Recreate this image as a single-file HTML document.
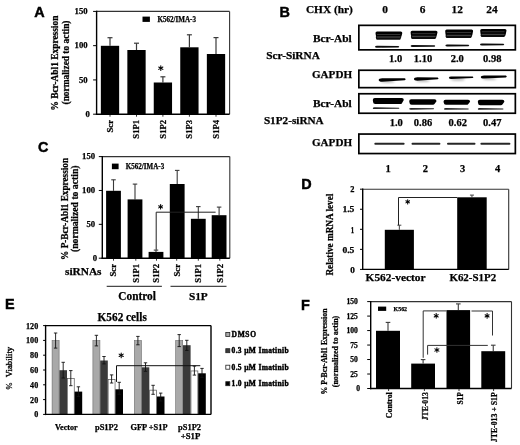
<!DOCTYPE html>
<html><head><meta charset="utf-8"><style>
html,body{margin:0;padding:0;background:#fff;}
svg{display:block;filter:grayscale(1) blur(0.3px);}
</style></head><body>
<svg width="520" height="445" viewBox="0 0 520 445">
<defs><filter id="bl" x="-20%" y="-50%" width="140%" height="200%"><feGaussianBlur stdDeviation="0.45"/></filter><filter id="bl2" x="-50%" y="-100%" width="200%" height="300%"><feGaussianBlur stdDeviation="1"/></filter></defs>
<rect x="0" y="0" width="520" height="445" fill="#fff"/>
<text x="34.2" y="16.8" font-family="'Liberation Sans', sans-serif" font-weight="bold" font-size="14.4" text-anchor="start" fill="#000" stroke="#000" stroke-width="0.45">A</text>
<line x1="93.10" y1="11.40" x2="96.60" y2="11.40" stroke="#000" stroke-width="1"/>
<text x="87.6" y="14.100000000000005" font-family="'Liberation Serif', serif" font-weight="bold" font-size="8.7" text-anchor="end" fill="#000" stroke="#000" stroke-width="0.25">150</text>
<line x1="93.10" y1="45.67" x2="96.60" y2="45.67" stroke="#000" stroke-width="1"/>
<text x="87.6" y="48.366666666666674" font-family="'Liberation Serif', serif" font-weight="bold" font-size="8.7" text-anchor="end" fill="#000" stroke="#000" stroke-width="0.25">100</text>
<line x1="93.10" y1="79.93" x2="96.60" y2="79.93" stroke="#000" stroke-width="1"/>
<text x="87.6" y="82.63333333333334" font-family="'Liberation Serif', serif" font-weight="bold" font-size="8.7" text-anchor="end" fill="#000" stroke="#000" stroke-width="0.25">50</text>
<line x1="93.10" y1="114.20" x2="96.60" y2="114.20" stroke="#000" stroke-width="1"/>
<text x="89.8" y="116.9" font-family="'Liberation Serif', serif" font-weight="bold" font-size="8.7" text-anchor="end" fill="#000" stroke="#000" stroke-width="0.25">0</text>
<line x1="110.00" y1="37.70" x2="110.00" y2="45.80" stroke="#3a3a3a" stroke-width="1.2"/>
<line x1="107.50" y1="37.70" x2="112.50" y2="37.70" stroke="#3a3a3a" stroke-width="1.2"/>
<rect x="100.85" y="45.80" width="18.30" height="68.40" fill="#000"/>
<line x1="136.50" y1="43.20" x2="136.50" y2="50.00" stroke="#3a3a3a" stroke-width="1.2"/>
<line x1="134.00" y1="43.20" x2="139.00" y2="43.20" stroke="#3a3a3a" stroke-width="1.2"/>
<rect x="127.35" y="50.00" width="18.30" height="64.20" fill="#000"/>
<line x1="162.90" y1="76.80" x2="162.90" y2="82.50" stroke="#3a3a3a" stroke-width="1.2"/>
<line x1="160.40" y1="76.80" x2="165.40" y2="76.80" stroke="#3a3a3a" stroke-width="1.2"/>
<rect x="153.75" y="82.50" width="18.30" height="31.70" fill="#000"/>
<line x1="189.40" y1="34.80" x2="189.40" y2="47.30" stroke="#3a3a3a" stroke-width="1.2"/>
<line x1="186.90" y1="34.80" x2="191.90" y2="34.80" stroke="#3a3a3a" stroke-width="1.2"/>
<rect x="180.25" y="47.30" width="18.30" height="66.90" fill="#000"/>
<line x1="216.00" y1="37.60" x2="216.00" y2="54.00" stroke="#3a3a3a" stroke-width="1.2"/>
<line x1="213.50" y1="37.60" x2="218.50" y2="37.60" stroke="#3a3a3a" stroke-width="1.2"/>
<rect x="206.85" y="54.00" width="18.30" height="60.20" fill="#000"/>
<line x1="96.60" y1="11.40" x2="229.60" y2="11.40" stroke="#333" stroke-width="1.1"/>
<line x1="229.60" y1="11.40" x2="229.60" y2="114.20" stroke="#333" stroke-width="1.1"/>
<line x1="96.60" y1="10.70" x2="96.60" y2="114.90" stroke="#000" stroke-width="1.4"/>
<line x1="95.90" y1="114.20" x2="229.60" y2="114.20" stroke="#000" stroke-width="1.4"/>
<line x1="160.80" y1="65.81" x2="160.80" y2="70.59" stroke="#000" stroke-width="1.05" stroke-linecap="round"/>
<line x1="158.73" y1="67.00" x2="162.87" y2="69.40" stroke="#000" stroke-width="1.05" stroke-linecap="round"/>
<line x1="162.87" y1="67.00" x2="158.73" y2="69.40" stroke="#000" stroke-width="1.05" stroke-linecap="round"/>
<circle cx="160.80" cy="68.20" r="0.67" fill="#000"/>
<rect x="142.50" y="16.60" width="7.40" height="5.30" fill="#000"/>
<text x="157.5" y="21.9" font-family="'Liberation Serif', serif" font-weight="bold" font-size="7.6" text-anchor="start" fill="#000" textLength="38.5" lengthAdjust="spacingAndGlyphs" stroke="#000" stroke-width="0.25">K562/IMA-3</text>
<text transform="translate(57.6,63.1) rotate(-90)" font-family="'Liberation Serif', serif" font-weight="bold" font-size="9.5" text-anchor="middle" fill="#000" textLength="95" lengthAdjust="spacingAndGlyphs" stroke="#000" stroke-width="0.25">% Bcr-Abl1 Expression</text>
<text transform="translate(68.6,62.5) rotate(-90)" font-family="'Liberation Serif', serif" font-weight="bold" font-size="9.5" text-anchor="middle" fill="#000" textLength="84" lengthAdjust="spacingAndGlyphs" stroke="#000" stroke-width="0.25">(normalized to actin)</text>
<line x1="110.00" y1="114.20" x2="110.00" y2="116.70" stroke="#000" stroke-width="0.8"/>
<text transform="translate(112.9,120) rotate(-90)" font-family="'Liberation Serif', serif" font-weight="bold" font-size="8.6" text-anchor="end" fill="#000" stroke="#000" stroke-width="0.25">Scr</text>
<line x1="136.50" y1="114.20" x2="136.50" y2="116.70" stroke="#000" stroke-width="0.8"/>
<text transform="translate(139.4,120) rotate(-90)" font-family="'Liberation Serif', serif" font-weight="bold" font-size="8.6" text-anchor="end" fill="#000" stroke="#000" stroke-width="0.25">S1P1</text>
<line x1="162.90" y1="114.20" x2="162.90" y2="116.70" stroke="#000" stroke-width="0.8"/>
<text transform="translate(165.8,120) rotate(-90)" font-family="'Liberation Serif', serif" font-weight="bold" font-size="8.6" text-anchor="end" fill="#000" stroke="#000" stroke-width="0.25">S1P2</text>
<line x1="189.40" y1="114.20" x2="189.40" y2="116.70" stroke="#000" stroke-width="0.8"/>
<text transform="translate(192.3,120) rotate(-90)" font-family="'Liberation Serif', serif" font-weight="bold" font-size="8.6" text-anchor="end" fill="#000" stroke="#000" stroke-width="0.25">S1P3</text>
<line x1="216.00" y1="114.20" x2="216.00" y2="116.70" stroke="#000" stroke-width="0.8"/>
<text transform="translate(218.9,120) rotate(-90)" font-family="'Liberation Serif', serif" font-weight="bold" font-size="8.6" text-anchor="end" fill="#000" stroke="#000" stroke-width="0.25">S1P4</text>
<text x="279.6" y="17.3" font-family="'Liberation Sans', sans-serif" font-weight="bold" font-size="14.4" text-anchor="start" fill="#000" stroke="#000" stroke-width="0.45">B</text>
<text x="305.9" y="13.3" font-family="'Liberation Serif', serif" font-weight="bold" font-size="11.35" text-anchor="start" fill="#000" textLength="47.0" lengthAdjust="spacingAndGlyphs" stroke="#000" stroke-width="0.25">CHX (hr)</text>
<text x="385" y="13.2" font-family="'Liberation Serif', serif" font-weight="bold" font-size="11.35" text-anchor="middle" fill="#000" stroke="#000" stroke-width="0.25">0</text>
<text x="422.5" y="13.2" font-family="'Liberation Serif', serif" font-weight="bold" font-size="11.35" text-anchor="middle" fill="#000" stroke="#000" stroke-width="0.25">6</text>
<text x="457.2" y="13.2" font-family="'Liberation Serif', serif" font-weight="bold" font-size="11.35" text-anchor="middle" fill="#000" stroke="#000" stroke-width="0.25">12</text>
<text x="492" y="13.2" font-family="'Liberation Serif', serif" font-weight="bold" font-size="11.35" text-anchor="middle" fill="#000" stroke="#000" stroke-width="0.25">24</text>
<rect x="358.85" y="25.35" width="156.50" height="24.50" fill="#fff" stroke="#000" stroke-width="1.7"/>
<rect x="358.85" y="70.25" width="156.50" height="17.40" fill="#fff" stroke="#000" stroke-width="1.7"/>
<rect x="358.85" y="93.75" width="156.50" height="19.50" fill="#fff" stroke="#000" stroke-width="1.7"/>
<rect x="358.85" y="134.05" width="156.50" height="19.50" fill="#fff" stroke="#000" stroke-width="1.7"/>
<text x="312.9" y="41.7" font-family="'Liberation Serif', serif" font-weight="bold" font-size="11.3" text-anchor="start" fill="#000" textLength="38.8" lengthAdjust="spacingAndGlyphs" stroke="#000" stroke-width="0.25">Bcr-Abl</text>
<text x="266.3" y="58.7" font-family="'Liberation Serif', serif" font-weight="bold" font-size="11.3" text-anchor="start" fill="#000" textLength="53.5" lengthAdjust="spacingAndGlyphs" stroke="#000" stroke-width="0.25">Scr-SiRNA</text>
<text x="312" y="78.0" font-family="'Liberation Serif', serif" font-weight="bold" font-size="11.2" text-anchor="start" fill="#000" textLength="40" lengthAdjust="spacingAndGlyphs" stroke="#000" stroke-width="0.25">GAPDH</text>
<text x="312.9" y="106.7" font-family="'Liberation Serif', serif" font-weight="bold" font-size="11.3" text-anchor="start" fill="#000" textLength="38.8" lengthAdjust="spacingAndGlyphs" stroke="#000" stroke-width="0.25">Bcr-Abl</text>
<text x="263.9" y="123.5" font-family="'Liberation Serif', serif" font-weight="bold" font-size="11.3" text-anchor="start" fill="#000" textLength="59.8" lengthAdjust="spacingAndGlyphs" stroke="#000" stroke-width="0.25">S1P2-siRNA</text>
<text x="312" y="146.3" font-family="'Liberation Serif', serif" font-weight="bold" font-size="11.2" text-anchor="start" fill="#000" textLength="40" lengthAdjust="spacingAndGlyphs" stroke="#000" stroke-width="0.25">GAPDH</text>
<text x="395.6" y="61.7" font-family="'Liberation Serif', serif" font-weight="bold" font-size="10.5" text-anchor="middle" fill="#000" stroke="#000" stroke-width="0.25">1.0</text>
<text x="423" y="61.7" font-family="'Liberation Serif', serif" font-weight="bold" font-size="10.5" text-anchor="middle" fill="#000" stroke="#000" stroke-width="0.25">1.10</text>
<text x="457.3" y="61.7" font-family="'Liberation Serif', serif" font-weight="bold" font-size="10.5" text-anchor="middle" fill="#000" stroke="#000" stroke-width="0.25">2.0</text>
<text x="492.3" y="61.7" font-family="'Liberation Serif', serif" font-weight="bold" font-size="10.5" text-anchor="middle" fill="#000" stroke="#000" stroke-width="0.25">0.98</text>
<text x="396.25" y="125.8" font-family="'Liberation Serif', serif" font-weight="bold" font-size="10.5" text-anchor="middle" fill="#000" stroke="#000" stroke-width="0.25">1.0</text>
<text x="423" y="125.8" font-family="'Liberation Serif', serif" font-weight="bold" font-size="10.5" text-anchor="middle" fill="#000" stroke="#000" stroke-width="0.25">0.86</text>
<text x="457.7" y="125.8" font-family="'Liberation Serif', serif" font-weight="bold" font-size="10.5" text-anchor="middle" fill="#000" stroke="#000" stroke-width="0.25">0.62</text>
<text x="492.2" y="125.8" font-family="'Liberation Serif', serif" font-weight="bold" font-size="10.5" text-anchor="middle" fill="#000" stroke="#000" stroke-width="0.25">0.47</text>
<text x="388.0" y="171.7" font-family="'Liberation Serif', serif" font-weight="bold" font-size="10.5" text-anchor="middle" fill="#000" stroke="#000" stroke-width="0.25">1</text>
<text x="425.4" y="171.7" font-family="'Liberation Serif', serif" font-weight="bold" font-size="10.5" text-anchor="middle" fill="#000" stroke="#000" stroke-width="0.25">2</text>
<text x="462.7" y="171.7" font-family="'Liberation Serif', serif" font-weight="bold" font-size="10.5" text-anchor="middle" fill="#000" stroke="#000" stroke-width="0.25">3</text>
<text x="497.5" y="171.7" font-family="'Liberation Serif', serif" font-weight="bold" font-size="10.5" text-anchor="middle" fill="#000" stroke="#000" stroke-width="0.25">4</text>
<path d="M376.80,36.10 L400.30,36.10 Q401.30,36.10 401.30,37.10 L400.50,39.20 Q400.00,39.80 399.00,39.80 L377.30,39.80 Q376.10,39.80 376.10,38.80 L375.80,37.10 Q375.80,36.10 376.80,36.10 Z" fill="#101010" filter="url(#bl)"/>
<path d="M377.00,31.50 L400.80,31.50 Q402.30,31.50 402.30,33.00 L401.50,36.20 Q401.00,36.80 400.00,36.80 L377.50,36.80 Q375.80,36.80 375.80,35.30 L375.50,33.00 Q375.50,31.50 377.00,31.50 Z" fill="#050505" filter="url(#bl)"/>
<rect x="377.00" y="34.14" width="23.30" height="0.7" fill="#888" opacity="0.55" filter="url(#bl)"/>
<rect x="377.00" y="36.63" width="23.30" height="0.7" fill="#888" opacity="0.8" filter="url(#bl)"/>
<path d="M375.00,46.80 Q375.00,45.80 377.00,45.80 L398.50,46.05 Q400.00,46.80 398.50,47.55 L377.00,47.80 Q375.00,47.80 375.00,46.80 Z" fill="#0a0a0a" filter="url(#bl)"/>
<path d="M411.90,35.70 L435.50,35.70 Q436.50,35.70 436.50,36.70 L435.70,38.40 Q435.20,39.00 434.20,39.00 L412.40,39.00 Q411.20,39.00 411.20,38.00 L410.90,36.70 Q410.90,35.70 411.90,35.70 Z" fill="#101010" filter="url(#bl)"/>
<path d="M412.10,30.80 L436.00,30.80 Q437.50,30.80 437.50,32.30 L436.70,35.80 Q436.20,36.40 435.20,36.40 L412.60,36.40 Q410.90,36.40 410.90,34.90 L410.60,32.30 Q410.60,30.80 412.10,30.80 Z" fill="#050505" filter="url(#bl)"/>
<rect x="412.10" y="33.40" width="23.40" height="0.7" fill="#888" opacity="0.55" filter="url(#bl)"/>
<rect x="412.10" y="35.86" width="23.40" height="0.7" fill="#888" opacity="0.8" filter="url(#bl)"/>
<path d="M410.60,46.10 Q410.60,45.10 412.60,45.10 L434.50,45.35 Q436.00,46.10 434.50,46.85 L412.60,47.10 Q410.60,47.10 410.60,46.10 Z" fill="#0a0a0a" filter="url(#bl)"/>
<path d="M446.50,35.10 L471.10,35.10 Q472.10,35.10 472.10,36.10 L471.30,37.50 Q470.80,38.10 469.80,38.10 L447.00,38.10 Q445.80,38.10 445.80,37.10 L445.50,36.10 Q445.50,35.10 446.50,35.10 Z" fill="#101010" filter="url(#bl)"/>
<path d="M446.70,29.60 L471.60,29.60 Q473.10,29.60 473.10,31.10 L472.30,35.20 Q471.80,35.80 470.80,35.80 L447.20,35.80 Q445.50,35.80 445.50,34.30 L445.20,31.10 Q445.20,29.60 446.70,29.60 Z" fill="#050505" filter="url(#bl)"/>
<rect x="446.70" y="32.31" width="24.40" height="0.7" fill="#888" opacity="0.55" filter="url(#bl)"/>
<rect x="446.70" y="34.86" width="24.40" height="0.7" fill="#888" opacity="0.8" filter="url(#bl)"/>
<path d="M445.40,45.50 Q445.40,44.50 447.40,44.50 L468.50,44.75 Q470.00,45.50 468.50,46.25 L447.40,46.50 Q445.40,46.50 445.40,45.50 Z" fill="#0a0a0a" filter="url(#bl)"/>
<path d="M481.50,34.30 L504.50,34.30 Q505.50,34.30 505.50,35.30 L504.70,36.40 Q504.20,37.00 503.20,37.00 L482.00,37.00 Q480.80,37.00 480.80,36.00 L480.50,35.30 Q480.50,34.30 481.50,34.30 Z" fill="#101010" filter="url(#bl)"/>
<path d="M481.70,28.90 L505.00,28.90 Q506.50,28.90 506.50,30.40 L505.70,34.40 Q505.20,35.00 504.20,35.00 L482.20,35.00 Q480.50,35.00 480.50,33.50 L480.20,30.40 Q480.20,28.90 481.70,28.90 Z" fill="#050505" filter="url(#bl)"/>
<rect x="481.70" y="31.47" width="22.80" height="0.7" fill="#888" opacity="0.55" filter="url(#bl)"/>
<rect x="481.70" y="33.90" width="22.80" height="0.7" fill="#888" opacity="0.8" filter="url(#bl)"/>
<path d="M480.00,44.50 Q480.00,43.50 482.00,43.50 L503.50,43.75 Q505.00,44.50 503.50,45.25 L482.00,45.50 Q480.00,45.50 480.00,44.50 Z" fill="#0a0a0a" filter="url(#bl)"/>
<ellipse cx="387.70" cy="81.70" rx="7" ry="1.3" fill="#bbb" filter="url(#bl2)"/>
<path d="M378.70,79.90 Q378.70,78.15 382.20,78.15 L404.70,78.25 Q406.60,79.20 404.70,80.15 L382.20,81.65 Q378.70,81.65 378.70,79.90 Z" fill="#000" filter="url(#bl)"/>
<ellipse cx="423.00" cy="80.80" rx="7" ry="1.3" fill="#bbb" filter="url(#bl2)"/>
<path d="M414.00,79.00 Q414.00,77.35 417.30,77.35 L437.70,77.50 Q439.50,78.40 437.70,79.30 L417.30,80.65 Q414.00,80.65 414.00,79.00 Z" fill="#000" filter="url(#bl)"/>
<ellipse cx="457.90" cy="79.50" rx="7" ry="1.3" fill="#bbb" filter="url(#bl2)"/>
<path d="M448.90,77.70 Q448.90,76.50 451.30,76.50 L472.70,76.55 Q474.20,77.30 472.70,78.05 L451.30,78.90 Q448.90,78.90 448.90,77.70 Z" fill="#000" filter="url(#bl)"/>
<ellipse cx="489.80" cy="78.80" rx="7" ry="1.3" fill="#bbb" filter="url(#bl2)"/>
<path d="M480.80,77.00 Q480.80,75.40 484.00,75.40 L505.80,75.55 Q507.70,76.50 505.80,77.45 L484.00,78.60 Q480.80,78.60 480.80,77.00 Z" fill="#000" filter="url(#bl)"/>
<path d="M374.80,98.00 L401.80,98.00 Q403.80,98.00 403.80,100.00 L401.80,103.40 Q401.30,104.00 400.30,104.00 L375.30,104.00 Q373.10,104.00 373.10,102.00 L372.80,100.00 Q372.80,98.00 374.80,98.00 Z" fill="#050505" filter="url(#bl)"/>
<path d="M372.80,108.20 Q372.80,107.30 374.60,107.30 L398.90,107.70 Q399.90,108.20 398.90,108.70 L374.60,109.10 Q372.80,109.10 372.80,108.20 Z" fill="#222" filter="url(#bl)"/>
<path d="M411.20,99.30 L434.50,99.30 Q436.50,99.30 436.50,101.30 L434.50,104.10 Q434.00,104.70 433.00,104.70 L411.70,104.70 Q409.50,104.70 409.50,102.70 L409.20,101.30 Q409.20,99.30 411.20,99.30 Z" fill="#050505" filter="url(#bl)"/>
<path d="M409.20,108.80 Q409.20,107.90 411.00,107.90 L433.60,108.30 Q434.60,108.80 433.60,109.30 L411.00,109.70 Q409.20,109.70 409.20,108.80 Z" fill="#222" filter="url(#bl)"/>
<path d="M445.50,99.80 L468.10,99.80 Q470.10,99.80 470.10,101.80 L468.10,104.20 Q467.60,104.80 466.60,104.80 L446.00,104.80 Q443.80,104.80 443.80,102.80 L443.50,101.80 Q443.50,99.80 445.50,99.80 Z" fill="#050505" filter="url(#bl)"/>
<path d="M444.00,108.90 Q444.00,108.00 445.80,108.00 L468.30,108.40 Q469.30,108.90 468.30,109.40 L445.80,109.80 Q444.00,109.80 444.00,108.90 Z" fill="#222" filter="url(#bl)"/>
<path d="M479.80,99.80 L502.40,99.80 Q504.40,99.80 504.40,101.80 L502.40,104.60 Q501.90,105.20 500.90,105.20 L480.30,105.20 Q478.10,105.20 478.10,103.20 L477.80,101.80 Q477.80,99.80 479.80,99.80 Z" fill="#050505" filter="url(#bl)"/>
<path d="M477.80,108.90 Q477.80,108.00 479.60,108.00 L503.00,108.40 Q504.00,108.90 503.00,109.40 L479.60,109.80 Q477.80,109.80 477.80,108.90 Z" fill="#222" filter="url(#bl)"/>
<rect x="374.30" y="142.75" width="30.30" height="1.9" rx="0.95" fill="#262626" filter="url(#bl)"/>
<rect x="411.50" y="142.75" width="28.90" height="1.9" rx="0.95" fill="#262626" filter="url(#bl)"/>
<rect x="447.00" y="142.75" width="28.50" height="1.9" rx="0.95" fill="#262626" filter="url(#bl)"/>
<rect x="480.40" y="142.75" width="30.00" height="1.9" rx="0.95" fill="#262626" filter="url(#bl)"/>
<text x="37.9" y="151.8" font-family="'Liberation Sans', sans-serif" font-weight="bold" font-size="14.4" text-anchor="start" fill="#000" stroke="#000" stroke-width="0.45">C</text>
<line x1="98.80" y1="156.60" x2="102.30" y2="156.60" stroke="#000" stroke-width="1"/>
<text x="95.1" y="159.29999999999998" font-family="'Liberation Serif', serif" font-weight="bold" font-size="8.7" text-anchor="end" fill="#000" stroke="#000" stroke-width="0.25">150</text>
<line x1="98.80" y1="190.47" x2="102.30" y2="190.47" stroke="#000" stroke-width="1"/>
<text x="95.1" y="193.16666666666663" font-family="'Liberation Serif', serif" font-weight="bold" font-size="8.7" text-anchor="end" fill="#000" stroke="#000" stroke-width="0.25">100</text>
<line x1="98.80" y1="224.33" x2="102.30" y2="224.33" stroke="#000" stroke-width="1"/>
<text x="95.1" y="227.0333333333333" font-family="'Liberation Serif', serif" font-weight="bold" font-size="8.7" text-anchor="end" fill="#000" stroke="#000" stroke-width="0.25">50</text>
<line x1="98.80" y1="258.20" x2="102.30" y2="258.20" stroke="#000" stroke-width="1"/>
<text x="97.1" y="260.9" font-family="'Liberation Serif', serif" font-weight="bold" font-size="8.7" text-anchor="end" fill="#000" stroke="#000" stroke-width="0.25">0</text>
<line x1="113.50" y1="179.80" x2="113.50" y2="190.80" stroke="#3a3a3a" stroke-width="1.1"/>
<line x1="111.25" y1="179.80" x2="115.75" y2="179.80" stroke="#3a3a3a" stroke-width="1.1"/>
<rect x="106.10" y="190.80" width="14.80" height="67.40" fill="#000"/>
<line x1="135.00" y1="184.10" x2="135.00" y2="199.40" stroke="#3a3a3a" stroke-width="1.1"/>
<line x1="132.75" y1="184.10" x2="137.25" y2="184.10" stroke="#3a3a3a" stroke-width="1.1"/>
<rect x="127.60" y="199.40" width="14.80" height="58.80" fill="#000"/>
<line x1="156.00" y1="250.10" x2="156.00" y2="251.90" stroke="#3a3a3a" stroke-width="1.1"/>
<line x1="153.75" y1="250.10" x2="158.25" y2="250.10" stroke="#3a3a3a" stroke-width="1.1"/>
<rect x="148.60" y="251.90" width="14.80" height="6.30" fill="#000"/>
<line x1="177.20" y1="170.40" x2="177.20" y2="184.00" stroke="#3a3a3a" stroke-width="1.1"/>
<line x1="174.95" y1="170.40" x2="179.45" y2="170.40" stroke="#3a3a3a" stroke-width="1.1"/>
<rect x="169.80" y="184.00" width="14.80" height="74.20" fill="#000"/>
<line x1="198.30" y1="206.60" x2="198.30" y2="218.80" stroke="#3a3a3a" stroke-width="1.1"/>
<line x1="196.05" y1="206.60" x2="200.55" y2="206.60" stroke="#3a3a3a" stroke-width="1.1"/>
<rect x="190.90" y="218.80" width="14.80" height="39.40" fill="#000"/>
<line x1="219.10" y1="207.10" x2="219.10" y2="215.20" stroke="#3a3a3a" stroke-width="1.1"/>
<line x1="216.85" y1="207.10" x2="221.35" y2="207.10" stroke="#3a3a3a" stroke-width="1.1"/>
<rect x="211.70" y="215.20" width="14.80" height="43.00" fill="#000"/>
<line x1="102.30" y1="156.60" x2="229.80" y2="156.60" stroke="#333" stroke-width="1.1"/>
<line x1="229.80" y1="156.60" x2="229.80" y2="258.20" stroke="#333" stroke-width="1.1"/>
<line x1="102.30" y1="155.90" x2="102.30" y2="258.90" stroke="#000" stroke-width="1.4"/>
<line x1="101.60" y1="258.20" x2="229.80" y2="258.20" stroke="#000" stroke-width="1.4"/>
<polyline points="156.20,249.80 156.20,212.20 215.60,212.20" stroke="#222" stroke-width="1.0" fill="none"/>
<line x1="160.60" y1="204.59" x2="160.60" y2="209.01" stroke="#000" stroke-width="1.05" stroke-linecap="round"/>
<line x1="158.69" y1="205.70" x2="162.51" y2="207.90" stroke="#000" stroke-width="1.05" stroke-linecap="round"/>
<line x1="162.51" y1="205.70" x2="158.69" y2="207.90" stroke="#000" stroke-width="1.05" stroke-linecap="round"/>
<circle cx="160.60" cy="206.80" r="0.62" fill="#000"/>
<rect x="111.90" y="163.60" width="6.70" height="5.60" fill="#000"/>
<text x="125.8" y="168.7" font-family="'Liberation Serif', serif" font-weight="bold" font-size="7.4" text-anchor="start" fill="#000" textLength="38.4" lengthAdjust="spacingAndGlyphs" stroke="#000" stroke-width="0.25">K562/IMA-3</text>
<text transform="translate(67.6,208.9) rotate(-90)" font-family="'Liberation Serif', serif" font-weight="bold" font-size="9.3" text-anchor="middle" fill="#000" textLength="102" lengthAdjust="spacingAndGlyphs" stroke="#000" stroke-width="0.25">% P-Bcr-Abl1 Expression</text>
<text transform="translate(77.6,208.75) rotate(-90)" font-family="'Liberation Serif', serif" font-weight="bold" font-size="9.5" text-anchor="middle" fill="#000" textLength="86.5" lengthAdjust="spacingAndGlyphs" stroke="#000" stroke-width="0.25">(normalized to actin)</text>
<line x1="113.50" y1="258.20" x2="113.50" y2="260.70" stroke="#000" stroke-width="0.8"/>
<text transform="translate(116.4,264) rotate(-90)" font-family="'Liberation Serif', serif" font-weight="bold" font-size="8.6" text-anchor="end" fill="#000" stroke="#000" stroke-width="0.25">Scr</text>
<line x1="135.80" y1="258.20" x2="135.80" y2="260.70" stroke="#000" stroke-width="0.8"/>
<text transform="translate(138.70000000000002,264) rotate(-90)" font-family="'Liberation Serif', serif" font-weight="bold" font-size="8.6" text-anchor="end" fill="#000" stroke="#000" stroke-width="0.25">S1P1</text>
<line x1="156.50" y1="258.20" x2="156.50" y2="260.70" stroke="#000" stroke-width="0.8"/>
<text transform="translate(159.4,264) rotate(-90)" font-family="'Liberation Serif', serif" font-weight="bold" font-size="8.6" text-anchor="end" fill="#000" stroke="#000" stroke-width="0.25">S1P2</text>
<line x1="176.70" y1="258.20" x2="176.70" y2="260.70" stroke="#000" stroke-width="0.8"/>
<text transform="translate(179.6,264) rotate(-90)" font-family="'Liberation Serif', serif" font-weight="bold" font-size="8.6" text-anchor="end" fill="#000" stroke="#000" stroke-width="0.25">Scr</text>
<line x1="198.30" y1="258.20" x2="198.30" y2="260.70" stroke="#000" stroke-width="0.8"/>
<text transform="translate(201.20000000000002,264) rotate(-90)" font-family="'Liberation Serif', serif" font-weight="bold" font-size="8.6" text-anchor="end" fill="#000" stroke="#000" stroke-width="0.25">S1P1</text>
<line x1="219.80" y1="258.20" x2="219.80" y2="260.70" stroke="#000" stroke-width="0.8"/>
<text transform="translate(222.70000000000002,264) rotate(-90)" font-family="'Liberation Serif', serif" font-weight="bold" font-size="8.6" text-anchor="end" fill="#000" stroke="#000" stroke-width="0.25">S1P2</text>
<text x="65" y="274.8" font-family="'Liberation Serif', serif" font-weight="bold" font-size="11.4" text-anchor="start" fill="#000" textLength="36.5" lengthAdjust="spacingAndGlyphs" stroke="#000" stroke-width="0.25">siRNAs</text>
<line x1="106.70" y1="286.30" x2="161.90" y2="286.30" stroke="#000" stroke-width="0.9"/>
<line x1="170.50" y1="286.30" x2="226.50" y2="286.30" stroke="#000" stroke-width="0.9"/>
<text x="118.3" y="299.9" font-family="'Liberation Serif', serif" font-weight="bold" font-size="11.5" text-anchor="start" fill="#000" textLength="37.6" lengthAdjust="spacingAndGlyphs" stroke="#000" stroke-width="0.25">Control</text>
<text x="188.9" y="299.9" font-family="'Liberation Serif', serif" font-weight="bold" font-size="11.4" text-anchor="start" fill="#000" textLength="18.8" lengthAdjust="spacingAndGlyphs" stroke="#000" stroke-width="0.25">S1P</text>
<text x="301.2" y="189.4" font-family="'Liberation Sans', sans-serif" font-weight="bold" font-size="14.4" text-anchor="start" fill="#000" stroke="#000" stroke-width="0.45">D</text>
<line x1="360.00" y1="189.20" x2="362.70" y2="189.20" stroke="#000" stroke-width="1"/>
<line x1="360.00" y1="209.25" x2="362.70" y2="209.25" stroke="#000" stroke-width="1"/>
<line x1="360.00" y1="229.30" x2="362.70" y2="229.30" stroke="#000" stroke-width="1"/>
<line x1="360.00" y1="249.35" x2="362.70" y2="249.35" stroke="#000" stroke-width="1"/>
<line x1="360.00" y1="269.40" x2="362.70" y2="269.40" stroke="#000" stroke-width="1"/>
<text x="354.4" y="192.39999999999998" font-family="'Liberation Serif', serif" font-weight="bold" font-size="8.8" text-anchor="end" fill="#000" textLength="4.2" lengthAdjust="spacingAndGlyphs" stroke="#000" stroke-width="0.25">2</text>
<text x="354.4" y="212.45" font-family="'Liberation Serif', serif" font-weight="bold" font-size="8.8" text-anchor="end" fill="#000" textLength="12.0" lengthAdjust="spacingAndGlyphs" stroke="#000" stroke-width="0.25">1.5</text>
<text x="354.2" y="232.49999999999997" font-family="'Liberation Serif', serif" font-weight="bold" font-size="8.8" text-anchor="end" fill="#000" textLength="3.4" lengthAdjust="spacingAndGlyphs" stroke="#000" stroke-width="0.25">1</text>
<text x="354.4" y="252.54999999999995" font-family="'Liberation Serif', serif" font-weight="bold" font-size="8.8" text-anchor="end" fill="#000" textLength="12.0" lengthAdjust="spacingAndGlyphs" stroke="#000" stroke-width="0.25">0.5</text>
<text x="354.8" y="272.59999999999997" font-family="'Liberation Serif', serif" font-weight="bold" font-size="8.8" text-anchor="end" fill="#000" textLength="4.6" lengthAdjust="spacingAndGlyphs" stroke="#000" stroke-width="0.25">0</text>
<line x1="399.35" y1="225.20" x2="399.35" y2="229.80" stroke="#444" stroke-width="1.0"/>
<line x1="397.35" y1="225.20" x2="401.35" y2="225.20" stroke="#444" stroke-width="1.0"/>
<rect x="384.80" y="229.80" width="29.10" height="39.60" fill="#000"/>
<line x1="471.95" y1="195.10" x2="471.95" y2="197.30" stroke="#444" stroke-width="1.0"/>
<line x1="469.95" y1="195.10" x2="473.95" y2="195.10" stroke="#444" stroke-width="1.0"/>
<rect x="457.20" y="197.30" width="29.50" height="72.10" fill="#000"/>
<line x1="362.70" y1="189.20" x2="508.70" y2="189.20" stroke="#333" stroke-width="1.1"/>
<line x1="508.70" y1="189.20" x2="508.70" y2="269.40" stroke="#333" stroke-width="1.1"/>
<line x1="362.70" y1="188.50" x2="362.70" y2="270.10" stroke="#000" stroke-width="1.4"/>
<line x1="362.00" y1="269.40" x2="508.70" y2="269.40" stroke="#000" stroke-width="1.4"/>
<polyline points="398.50,225.20 398.50,197.50 457.20,197.50" stroke="#222" stroke-width="1.0" fill="none"/>
<line x1="407.70" y1="199.68" x2="407.70" y2="203.92" stroke="#000" stroke-width="1.05" stroke-linecap="round"/>
<line x1="405.87" y1="200.74" x2="409.53" y2="202.86" stroke="#000" stroke-width="1.05" stroke-linecap="round"/>
<line x1="409.53" y1="200.74" x2="405.87" y2="202.86" stroke="#000" stroke-width="1.05" stroke-linecap="round"/>
<circle cx="407.70" cy="201.80" r="0.59" fill="#000"/>
<text transform="translate(333,234.6) rotate(-90)" font-family="'Liberation Serif', serif" font-weight="bold" font-size="10" text-anchor="middle" fill="#000" textLength="82" lengthAdjust="spacingAndGlyphs" stroke="#000" stroke-width="0.25">Relative mRNA level</text>
<text x="365.6" y="281.0" font-family="'Liberation Serif', serif" font-weight="bold" font-size="11.3" text-anchor="start" fill="#000" textLength="60.0" lengthAdjust="spacingAndGlyphs" stroke="#000" stroke-width="0.25">K562-vector</text>
<text x="449.4" y="281.0" font-family="'Liberation Serif', serif" font-weight="bold" font-size="11.2" text-anchor="start" fill="#000" textLength="46.8" lengthAdjust="spacingAndGlyphs" stroke="#000" stroke-width="0.25">K62-S1P2</text>
<text x="4.9" y="309.3" font-family="'Liberation Sans', sans-serif" font-weight="bold" font-size="14.4" text-anchor="start" fill="#000" stroke="#000" stroke-width="0.45">E</text>
<text x="97.6" y="320.5" font-family="'Liberation Serif', serif" font-weight="bold" font-size="11.5" text-anchor="start" fill="#000" textLength="49.2" lengthAdjust="spacingAndGlyphs" stroke="#000" stroke-width="0.25">K562 cells</text>
<line x1="43.10" y1="325.60" x2="45.60" y2="325.60" stroke="#000" stroke-width="1"/>
<text x="38.2" y="328.6" font-family="'Liberation Serif', serif" font-weight="bold" font-size="8.1" text-anchor="end" fill="#000" stroke="#000" stroke-width="0.25">120</text>
<line x1="43.10" y1="340.40" x2="45.60" y2="340.40" stroke="#000" stroke-width="1"/>
<text x="38.2" y="343.4" font-family="'Liberation Serif', serif" font-weight="bold" font-size="8.1" text-anchor="end" fill="#000" stroke="#000" stroke-width="0.25">100</text>
<line x1="43.10" y1="355.20" x2="45.60" y2="355.20" stroke="#000" stroke-width="1"/>
<text x="38.2" y="358.2" font-family="'Liberation Serif', serif" font-weight="bold" font-size="8.1" text-anchor="end" fill="#000" stroke="#000" stroke-width="0.25">80</text>
<line x1="43.10" y1="370.00" x2="45.60" y2="370.00" stroke="#000" stroke-width="1"/>
<text x="38.2" y="373.0" font-family="'Liberation Serif', serif" font-weight="bold" font-size="8.1" text-anchor="end" fill="#000" stroke="#000" stroke-width="0.25">60</text>
<line x1="43.10" y1="384.80" x2="45.60" y2="384.80" stroke="#000" stroke-width="1"/>
<text x="38.2" y="387.8" font-family="'Liberation Serif', serif" font-weight="bold" font-size="8.1" text-anchor="end" fill="#000" stroke="#000" stroke-width="0.25">40</text>
<line x1="43.10" y1="399.60" x2="45.60" y2="399.60" stroke="#000" stroke-width="1"/>
<text x="38.2" y="402.59999999999997" font-family="'Liberation Serif', serif" font-weight="bold" font-size="8.1" text-anchor="end" fill="#000" stroke="#000" stroke-width="0.25">20</text>
<line x1="43.10" y1="414.40" x2="45.60" y2="414.40" stroke="#000" stroke-width="1"/>
<text x="38.2" y="417.4" font-family="'Liberation Serif', serif" font-weight="bold" font-size="8.1" text-anchor="end" fill="#000" stroke="#000" stroke-width="0.25">0</text>
<rect x="52.10" y="340.60" width="7.00" height="73.80" fill="#a9a9a9" stroke="#6a6a6a" stroke-width="0.6"/>
<rect x="59.40" y="370.20" width="7.60" height="44.20" fill="#3a3a3a"/>
<rect x="67.35" y="378.35" width="6.90" height="36.05" fill="#fff" stroke="#555" stroke-width="0.7"/>
<rect x="74.60" y="391.60" width="7.60" height="22.80" fill="#000000"/>
<line x1="55.60" y1="333.00" x2="55.60" y2="348.10" stroke="#111" stroke-width="0.9"/>
<line x1="53.90" y1="333.00" x2="57.30" y2="333.00" stroke="#111" stroke-width="0.9"/>
<line x1="53.90" y1="348.10" x2="57.30" y2="348.10" stroke="#111" stroke-width="0.9"/>
<line x1="63.20" y1="362.30" x2="63.20" y2="378.00" stroke="#111" stroke-width="0.9"/>
<line x1="61.50" y1="362.30" x2="64.90" y2="362.30" stroke="#111" stroke-width="0.9"/>
<line x1="61.50" y1="378.00" x2="64.90" y2="378.00" stroke="#111" stroke-width="0.9"/>
<line x1="70.80" y1="370.60" x2="70.80" y2="385.70" stroke="#111" stroke-width="0.9"/>
<line x1="69.10" y1="370.60" x2="72.50" y2="370.60" stroke="#111" stroke-width="0.9"/>
<line x1="69.10" y1="385.70" x2="72.50" y2="385.70" stroke="#111" stroke-width="0.9"/>
<line x1="78.40" y1="386.80" x2="78.40" y2="396.50" stroke="#111" stroke-width="0.9"/>
<line x1="76.70" y1="386.80" x2="80.10" y2="386.80" stroke="#111" stroke-width="0.9"/>
<line x1="76.70" y1="396.50" x2="80.10" y2="396.50" stroke="#111" stroke-width="0.9"/>
<rect x="92.90" y="340.60" width="7.00" height="73.80" fill="#a9a9a9" stroke="#6a6a6a" stroke-width="0.6"/>
<rect x="100.20" y="360.50" width="7.60" height="53.90" fill="#3a3a3a"/>
<rect x="108.15" y="379.35" width="6.90" height="35.05" fill="#fff" stroke="#555" stroke-width="0.7"/>
<rect x="115.40" y="389.30" width="7.60" height="25.10" fill="#000000"/>
<line x1="96.40" y1="335.30" x2="96.40" y2="345.90" stroke="#111" stroke-width="0.9"/>
<line x1="94.70" y1="335.30" x2="98.10" y2="335.30" stroke="#111" stroke-width="0.9"/>
<line x1="94.70" y1="345.90" x2="98.10" y2="345.90" stroke="#111" stroke-width="0.9"/>
<line x1="104.00" y1="356.50" x2="104.00" y2="363.90" stroke="#111" stroke-width="0.9"/>
<line x1="102.30" y1="356.50" x2="105.70" y2="356.50" stroke="#111" stroke-width="0.9"/>
<line x1="102.30" y1="363.90" x2="105.70" y2="363.90" stroke="#111" stroke-width="0.9"/>
<line x1="111.60" y1="374.90" x2="111.60" y2="383.00" stroke="#111" stroke-width="0.9"/>
<line x1="109.90" y1="374.90" x2="113.30" y2="374.90" stroke="#111" stroke-width="0.9"/>
<line x1="109.90" y1="383.00" x2="113.30" y2="383.00" stroke="#111" stroke-width="0.9"/>
<line x1="119.20" y1="382.30" x2="119.20" y2="394.30" stroke="#111" stroke-width="0.9"/>
<line x1="117.50" y1="382.30" x2="120.90" y2="382.30" stroke="#111" stroke-width="0.9"/>
<line x1="117.50" y1="394.30" x2="120.90" y2="394.30" stroke="#111" stroke-width="0.9"/>
<rect x="134.40" y="340.60" width="7.00" height="73.80" fill="#a9a9a9" stroke="#6a6a6a" stroke-width="0.6"/>
<rect x="141.70" y="367.30" width="7.60" height="47.10" fill="#3a3a3a"/>
<rect x="149.65" y="390.15" width="6.90" height="24.25" fill="#fff" stroke="#555" stroke-width="0.7"/>
<rect x="156.90" y="396.50" width="7.60" height="17.90" fill="#000000"/>
<line x1="137.90" y1="336.40" x2="137.90" y2="344.80" stroke="#111" stroke-width="0.9"/>
<line x1="136.20" y1="336.40" x2="139.60" y2="336.40" stroke="#111" stroke-width="0.9"/>
<line x1="136.20" y1="344.80" x2="139.60" y2="344.80" stroke="#111" stroke-width="0.9"/>
<line x1="145.50" y1="362.80" x2="145.50" y2="371.30" stroke="#111" stroke-width="0.9"/>
<line x1="143.80" y1="362.80" x2="147.20" y2="362.80" stroke="#111" stroke-width="0.9"/>
<line x1="143.80" y1="371.30" x2="147.20" y2="371.30" stroke="#111" stroke-width="0.9"/>
<line x1="153.10" y1="385.30" x2="153.10" y2="394.30" stroke="#111" stroke-width="0.9"/>
<line x1="151.40" y1="385.30" x2="154.80" y2="385.30" stroke="#111" stroke-width="0.9"/>
<line x1="151.40" y1="394.30" x2="154.80" y2="394.30" stroke="#111" stroke-width="0.9"/>
<line x1="160.70" y1="393.10" x2="160.70" y2="401.00" stroke="#111" stroke-width="0.9"/>
<line x1="159.00" y1="393.10" x2="162.40" y2="393.10" stroke="#111" stroke-width="0.9"/>
<line x1="159.00" y1="401.00" x2="162.40" y2="401.00" stroke="#111" stroke-width="0.9"/>
<rect x="175.70" y="340.50" width="7.00" height="73.90" fill="#a9a9a9" stroke="#6a6a6a" stroke-width="0.6"/>
<rect x="183.00" y="345.20" width="7.60" height="69.20" fill="#3a3a3a"/>
<rect x="190.95" y="370.95" width="6.90" height="43.45" fill="#fff" stroke="#555" stroke-width="0.7"/>
<rect x="198.20" y="373.30" width="7.60" height="41.10" fill="#000000"/>
<line x1="179.20" y1="334.60" x2="179.20" y2="346.60" stroke="#111" stroke-width="0.9"/>
<line x1="177.50" y1="334.60" x2="180.90" y2="334.60" stroke="#111" stroke-width="0.9"/>
<line x1="177.50" y1="346.60" x2="180.90" y2="346.60" stroke="#111" stroke-width="0.9"/>
<line x1="186.80" y1="340.30" x2="186.80" y2="350.40" stroke="#111" stroke-width="0.9"/>
<line x1="185.10" y1="340.30" x2="188.50" y2="340.30" stroke="#111" stroke-width="0.9"/>
<line x1="185.10" y1="350.40" x2="188.50" y2="350.40" stroke="#111" stroke-width="0.9"/>
<line x1="194.40" y1="366.10" x2="194.40" y2="375.10" stroke="#111" stroke-width="0.9"/>
<line x1="192.70" y1="366.10" x2="196.10" y2="366.10" stroke="#111" stroke-width="0.9"/>
<line x1="192.70" y1="375.10" x2="196.10" y2="375.10" stroke="#111" stroke-width="0.9"/>
<line x1="202.00" y1="368.40" x2="202.00" y2="377.40" stroke="#111" stroke-width="0.9"/>
<line x1="200.30" y1="368.40" x2="203.70" y2="368.40" stroke="#111" stroke-width="0.9"/>
<line x1="200.30" y1="377.40" x2="203.70" y2="377.40" stroke="#111" stroke-width="0.9"/>
<line x1="45.60" y1="325.60" x2="211.00" y2="325.60" stroke="#000" stroke-width="1.4"/>
<line x1="211.00" y1="325.60" x2="211.00" y2="414.40" stroke="#000" stroke-width="1.4"/>
<line x1="45.60" y1="324.90" x2="45.60" y2="415.10" stroke="#000" stroke-width="1.4"/>
<line x1="44.90" y1="414.40" x2="211.00" y2="414.40" stroke="#000" stroke-width="1.4"/>
<polyline points="116.50,381.90 116.50,365.70 200.30,365.70" stroke="#111" stroke-width="1.0" fill="none"/>
<line x1="121.20" y1="352.91" x2="121.20" y2="357.69" stroke="#000" stroke-width="1.05" stroke-linecap="round"/>
<line x1="119.13" y1="354.10" x2="123.27" y2="356.50" stroke="#000" stroke-width="1.05" stroke-linecap="round"/>
<line x1="123.27" y1="354.10" x2="119.13" y2="356.50" stroke="#000" stroke-width="1.05" stroke-linecap="round"/>
<circle cx="121.20" cy="355.30" r="0.67" fill="#000"/>
<rect x="225.80" y="332.40" width="4.00" height="4.00" fill="#a9a9a9" stroke="#222" stroke-width="0.8"/>
<text x="231.6" y="337" font-family="'Liberation Serif', serif" font-weight="bold" font-size="7.5" text-anchor="start" fill="#000" textLength="24.4" lengthAdjust="spacing" stroke="#000" stroke-width="0.4">DMSO</text>
<rect x="225.80" y="348.70" width="4.00" height="4.00" fill="#3a3a3a" stroke="#222" stroke-width="0.8"/>
<text x="231.6" y="353.3" font-family="'Liberation Serif', serif" font-weight="bold" font-size="7.5" text-anchor="start" fill="#000" textLength="57" lengthAdjust="spacing" stroke="#000" stroke-width="0.4">0.3 µM Imatinib</text>
<rect x="225.80" y="365.20" width="4.00" height="4.00" fill="#fff" stroke="#222" stroke-width="0.8"/>
<text x="231.6" y="369.8" font-family="'Liberation Serif', serif" font-weight="bold" font-size="7.5" text-anchor="start" fill="#000" textLength="57" lengthAdjust="spacing" stroke="#000" stroke-width="0.4">0.5 µM Imatinib</text>
<rect x="225.80" y="381.70" width="4.00" height="4.00" fill="#000" stroke="#222" stroke-width="0.8"/>
<text x="231.6" y="386.3" font-family="'Liberation Serif', serif" font-weight="bold" font-size="7.5" text-anchor="start" fill="#000" textLength="57" lengthAdjust="spacing" stroke="#000" stroke-width="0.4">1.0 µM Imatinib</text>
<text transform="translate(11.6,362) rotate(-90)" font-family="'Liberation Serif', serif" font-weight="normal" font-size="8.4" text-anchor="middle" fill="#000" textLength="30.3" lengthAdjust="spacingAndGlyphs" stroke="#000" stroke-width="0.35">Viability</text>
<text transform="translate(11.5,386) rotate(-90)" font-family="'Liberation Serif', serif" font-weight="normal" font-size="8.2" text-anchor="middle" fill="#222" stroke="#222" stroke-width="0.3">%</text>
<text x="66.3" y="430" font-family="'Liberation Serif', serif" font-weight="bold" font-size="8.3" text-anchor="middle" fill="#000" textLength="22.6" lengthAdjust="spacingAndGlyphs" stroke="#000" stroke-width="0.25">Vector</text>
<text x="106.5" y="430" font-family="'Liberation Serif', serif" font-weight="bold" font-size="8.3" text-anchor="middle" fill="#000" textLength="23.1" lengthAdjust="spacingAndGlyphs" stroke="#000" stroke-width="0.25">pS1P2</text>
<text x="149" y="430" font-family="'Liberation Serif', serif" font-weight="bold" font-size="8.3" text-anchor="middle" fill="#000" textLength="37" lengthAdjust="spacingAndGlyphs" stroke="#000" stroke-width="0.25">GFP +S1P</text>
<text x="189.6" y="430" font-family="'Liberation Serif', serif" font-weight="bold" font-size="8.3" text-anchor="middle" fill="#000" textLength="23" lengthAdjust="spacingAndGlyphs" stroke="#000" stroke-width="0.25">pS1P2</text>
<text x="190.5" y="439.1" font-family="'Liberation Serif', serif" font-weight="bold" font-size="8.3" text-anchor="middle" fill="#000" textLength="19.6" lengthAdjust="spacingAndGlyphs" stroke="#000" stroke-width="0.25">+S1P</text>
<text x="301.0" y="309.7" font-family="'Liberation Sans', sans-serif" font-weight="bold" font-size="14.4" text-anchor="start" fill="#000" stroke="#000" stroke-width="0.45">F</text>
<line x1="367.20" y1="301.60" x2="370.70" y2="301.60" stroke="#000" stroke-width="1"/>
<text x="357.8" y="304.3" font-family="'Liberation Serif', serif" font-weight="bold" font-size="7.6" text-anchor="end" fill="#000" stroke="#000" stroke-width="0.25">150</text>
<line x1="367.20" y1="316.08" x2="370.70" y2="316.08" stroke="#000" stroke-width="1"/>
<text x="357.8" y="318.78333333333336" font-family="'Liberation Serif', serif" font-weight="bold" font-size="7.6" text-anchor="end" fill="#000" stroke="#000" stroke-width="0.25">125</text>
<line x1="367.20" y1="330.57" x2="370.70" y2="330.57" stroke="#000" stroke-width="1"/>
<text x="357.8" y="333.26666666666665" font-family="'Liberation Serif', serif" font-weight="bold" font-size="7.6" text-anchor="end" fill="#000" stroke="#000" stroke-width="0.25">100</text>
<line x1="367.20" y1="345.05" x2="370.70" y2="345.05" stroke="#000" stroke-width="1"/>
<text x="357.8" y="347.75" font-family="'Liberation Serif', serif" font-weight="bold" font-size="7.6" text-anchor="end" fill="#000" stroke="#000" stroke-width="0.25">75</text>
<line x1="367.20" y1="359.53" x2="370.70" y2="359.53" stroke="#000" stroke-width="1"/>
<text x="357.8" y="362.23333333333335" font-family="'Liberation Serif', serif" font-weight="bold" font-size="7.6" text-anchor="end" fill="#000" stroke="#000" stroke-width="0.25">50</text>
<line x1="367.20" y1="374.02" x2="370.70" y2="374.02" stroke="#000" stroke-width="1"/>
<text x="357.8" y="376.71666666666664" font-family="'Liberation Serif', serif" font-weight="bold" font-size="7.6" text-anchor="end" fill="#000" stroke="#000" stroke-width="0.25">25</text>
<line x1="367.20" y1="388.50" x2="370.70" y2="388.50" stroke="#000" stroke-width="1"/>
<text x="360.1" y="391.2" font-family="'Liberation Serif', serif" font-weight="bold" font-size="7.6" text-anchor="end" fill="#000" stroke="#000" stroke-width="0.25">0</text>
<line x1="388.00" y1="322.40" x2="388.00" y2="330.80" stroke="#3a3a3a" stroke-width="1.1"/>
<line x1="385.70" y1="322.40" x2="390.30" y2="322.40" stroke="#3a3a3a" stroke-width="1.1"/>
<rect x="376.00" y="330.80" width="24.00" height="57.70" fill="#000"/>
<line x1="423.10" y1="359.60" x2="423.10" y2="363.60" stroke="#3a3a3a" stroke-width="1.1"/>
<line x1="420.80" y1="359.60" x2="425.40" y2="359.60" stroke="#3a3a3a" stroke-width="1.1"/>
<rect x="411.20" y="363.60" width="23.80" height="24.90" fill="#000"/>
<line x1="458.30" y1="303.90" x2="458.30" y2="310.10" stroke="#3a3a3a" stroke-width="1.1"/>
<line x1="456.00" y1="303.90" x2="460.60" y2="303.90" stroke="#3a3a3a" stroke-width="1.1"/>
<rect x="446.50" y="310.10" width="23.60" height="78.40" fill="#000"/>
<line x1="493.25" y1="345.20" x2="493.25" y2="351.20" stroke="#3a3a3a" stroke-width="1.1"/>
<line x1="490.95" y1="345.20" x2="495.55" y2="345.20" stroke="#3a3a3a" stroke-width="1.1"/>
<rect x="481.30" y="351.20" width="23.90" height="37.30" fill="#000"/>
<line x1="370.70" y1="301.60" x2="511.50" y2="301.60" stroke="#333" stroke-width="1.1"/>
<line x1="511.50" y1="301.60" x2="511.50" y2="388.50" stroke="#333" stroke-width="1.1"/>
<line x1="370.70" y1="300.90" x2="370.70" y2="389.20" stroke="#000" stroke-width="1.4"/>
<line x1="370.00" y1="388.50" x2="511.50" y2="388.50" stroke="#000" stroke-width="1.4"/>
<polyline points="423.20,357.80 423.20,310.90 446.50,310.90" stroke="#333" stroke-width="1.0" fill="none"/>
<polyline points="471.50,311.00 492.50,311.00 492.50,335.50" stroke="#333" stroke-width="1.0" fill="none"/>
<polyline points="427.60,354.60 427.60,345.40 487.80,345.40" stroke="#333" stroke-width="1.0" fill="none"/>
<line x1="436.20" y1="313.50" x2="436.20" y2="318.10" stroke="#000" stroke-width="1.05" stroke-linecap="round"/>
<line x1="434.21" y1="314.65" x2="438.19" y2="316.95" stroke="#000" stroke-width="1.05" stroke-linecap="round"/>
<line x1="438.19" y1="314.65" x2="434.21" y2="316.95" stroke="#000" stroke-width="1.05" stroke-linecap="round"/>
<circle cx="436.20" cy="315.80" r="0.64" fill="#000"/>
<line x1="487.10" y1="313.60" x2="487.10" y2="318.20" stroke="#000" stroke-width="1.05" stroke-linecap="round"/>
<line x1="485.11" y1="314.75" x2="489.09" y2="317.05" stroke="#000" stroke-width="1.05" stroke-linecap="round"/>
<line x1="489.09" y1="314.75" x2="485.11" y2="317.05" stroke="#000" stroke-width="1.05" stroke-linecap="round"/>
<circle cx="487.10" cy="315.90" r="0.64" fill="#000"/>
<line x1="436.90" y1="347.70" x2="436.90" y2="352.30" stroke="#000" stroke-width="1.05" stroke-linecap="round"/>
<line x1="434.91" y1="348.85" x2="438.89" y2="351.15" stroke="#000" stroke-width="1.05" stroke-linecap="round"/>
<line x1="438.89" y1="348.85" x2="434.91" y2="351.15" stroke="#000" stroke-width="1.05" stroke-linecap="round"/>
<circle cx="436.90" cy="350.00" r="0.64" fill="#000"/>
<rect x="378.00" y="306.60" width="8.20" height="4.30" fill="#000"/>
<text x="393.6" y="310.9" font-family="'Liberation Serif', serif" font-weight="bold" font-size="6.6" text-anchor="start" fill="#000" textLength="13.5" lengthAdjust="spacingAndGlyphs" stroke="#000" stroke-width="0.25">K562</text>
<text transform="translate(326.59999999999997,351.5) rotate(-90)" font-family="'Liberation Serif', serif" font-weight="bold" font-size="7.8" text-anchor="middle" fill="#000" textLength="86" lengthAdjust="spacingAndGlyphs" stroke="#000" stroke-width="0.25">% P-Bcr-Abl1 Expression</text>
<text transform="translate(337.8,351.5) rotate(-90)" font-family="'Liberation Serif', serif" font-weight="bold" font-size="8" text-anchor="middle" fill="#000" textLength="71.5" lengthAdjust="spacingAndGlyphs" stroke="#000" stroke-width="0.25">(normalized to actin)</text>
<line x1="388.60" y1="388.50" x2="388.60" y2="391.00" stroke="#000" stroke-width="0.8"/>
<text transform="translate(392.1,392.2) rotate(-90)" font-family="'Liberation Serif', serif" font-weight="bold" font-size="7.8" text-anchor="end" fill="#000" textLength="26" lengthAdjust="spacingAndGlyphs" stroke="#000" stroke-width="0.25">Control</text>
<line x1="424.40" y1="388.50" x2="424.40" y2="391.00" stroke="#000" stroke-width="0.8"/>
<text transform="translate(427.9,392.2) rotate(-90)" font-family="'Liberation Serif', serif" font-weight="bold" font-size="7.8" text-anchor="end" fill="#000" textLength="28" lengthAdjust="spacingAndGlyphs" stroke="#000" stroke-width="0.25">JTE-013</text>
<line x1="459.00" y1="388.50" x2="459.00" y2="391.00" stroke="#000" stroke-width="0.8"/>
<text transform="translate(462.5,392.2) rotate(-90)" font-family="'Liberation Serif', serif" font-weight="bold" font-size="7.8" text-anchor="end" fill="#000" textLength="12.4" lengthAdjust="spacingAndGlyphs" stroke="#000" stroke-width="0.25">S1P</text>
<line x1="493.60" y1="388.50" x2="493.60" y2="391.00" stroke="#000" stroke-width="0.8"/>
<text transform="translate(497.1,392.2) rotate(-90)" font-family="'Liberation Serif', serif" font-weight="bold" font-size="7.8" text-anchor="end" fill="#000" textLength="50" lengthAdjust="spacingAndGlyphs" stroke="#000" stroke-width="0.25">JTE-013 + S1P</text>
</svg>
</body></html>
